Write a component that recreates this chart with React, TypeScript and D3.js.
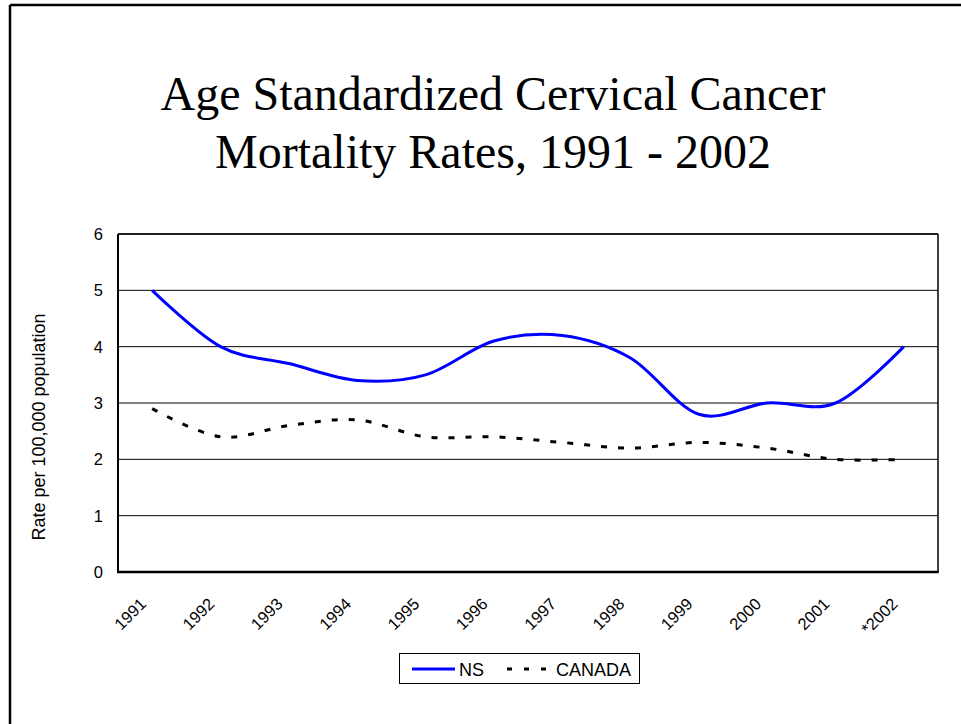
import React from 'react';
import * as d3 from 'd3';

const years = ['1991', '1992', '1993', '1994', '1995', '1996', '1997', '1998', '1999', '2000', '2001', '*2002'];
const nsValues = [5.0, 4.0, 3.7, 3.4, 3.5, 4.1, 4.2, 3.8, 2.8, 3.0, 3.0, 4.0];
const canadaValues = [2.9, 2.4, 2.6, 2.7, 2.4, 2.4, 2.3, 2.2, 2.3, 2.2, 2.0, 2.0];
const yTicks = [0, 1, 2, 3, 4, 5, 6];
const titleLines = ['Age Standardized Cervical Cancer', 'Mortality Rates, 1991 - 2002'];
const yAxisTitle = 'Rate per 100,000 population';
const seriesNames = ['NS', 'CANADA'];

const W = 961;
const H = 724;
const plot = { left: 118, right: 938, top: 234, bottom: 572 };
const sans = '"Liberation Sans", Arial, sans-serif';
const serif = '"Liberation Serif", "Times New Roman", serif';

export default function App() {
  React.useEffect(() => {
    document.body.style.margin = '0';
    document.body.style.overflow = 'hidden';
  }, []);

  const x = d3.scalePoint<string>().domain(years).range([plot.left, plot.right]).padding(0.5);
  const y = d3.scaleLinear().domain([0, 6]).range([plot.bottom, plot.top]);

  const line = d3
    .line<number>()
    .x((_, i) => x(years[i]) as number)
    .y((d) => y(d))
    .curve(d3.curveCatmullRom.alpha(0));

  return (
    <svg width={W} height={H} style={{ position: 'absolute', left: 0, top: 0, background: '#fff' }}>
      <rect x={0} y={0} width={W} height={H} fill="#fff" />
      {/* outer frame (only left and top visible) */}
      <line x1={10} y1={5} x2={W} y2={5} stroke="#000" strokeWidth={2.5} />
      <line x1={10} y1={5} x2={10} y2={H} stroke="#000" strokeWidth={2.5} />

      {/* title */}
      {titleLines.map((t, i) => (
        <text key={t} x={493} y={110 + i * 58} textAnchor="middle" fontFamily={serif} fontSize={48} fill="#000">
          {t}
        </text>
      ))}

      {/* gridlines */}
      {yTicks.map((t) => (
        <line key={'g' + t} x1={plot.left} x2={plot.right} y1={y(t)} y2={y(t)} stroke="#000" strokeWidth={1} />
      ))}
      {/* plot frame */}
      <line x1={plot.left} x2={plot.left} y1={plot.top} y2={plot.bottom} stroke="#000" strokeWidth={2} />
      <line x1={plot.right} x2={plot.right} y1={plot.top} y2={plot.bottom} stroke="#000" strokeWidth={1.5} />
      <line x1={plot.left} x2={plot.right} y1={plot.top} y2={plot.top} stroke="#000" strokeWidth={1.5} />
      <line x1={plot.left - 1} x2={plot.right + 0.75} y1={plot.bottom} y2={plot.bottom} stroke="#000" strokeWidth={2.5} />

      {/* y tick labels */}
      {yTicks.map((t) => (
        <text key={'yt' + t} x={103} y={y(t)} dy="0.36em" textAnchor="end" fontFamily={sans} fontSize={16.5} fill="#000">
          {t}
        </text>
      ))}

      {/* y axis title */}
      <text
        transform={`translate(45, 427) rotate(-90)`}
        textAnchor="middle"
        fontFamily={sans}
        fontSize={18}
        fill="#000"
      >
        {yAxisTitle}
      </text>

      {/* x tick labels */}
      {years.map((yr) => (
        <text
          key={'xt' + yr}
          transform={`translate(${(x(yr) as number) - 5}, 605) rotate(-45)`}
          textAnchor="end"
          fontFamily={sans}
          fontSize={16.5}
          fill="#000"
        >
          {yr}
        </text>
      ))}

      {/* series */}
      <path d={line(canadaValues) || ''} fill="none" stroke="#000" strokeWidth={3} strokeDasharray="6,11" />
      <path d={line(nsValues) || ''} fill="none" stroke="#0000ff" strokeWidth={3} />

      {/* legend */}
      <rect x={399.5} y={653.5} width={240} height={30} fill="#fff" stroke="#000" strokeWidth={1} />
      <line x1={412} x2={455} y1={669} y2={669} stroke="#0000ff" strokeWidth={3} />
      <text x={459} y={675.5} fontFamily={sans} fontSize={18} fill="#000">
        {seriesNames[0]}
      </text>
      <line x1={507} x2={546} y1={669} y2={669} stroke="#000" strokeWidth={3} strokeDasharray="5,12" />
      <text x={556} y={675.5} fontFamily={sans} fontSize={18} fill="#000">
        {seriesNames[1]}
      </text>
    </svg>
  );
}
